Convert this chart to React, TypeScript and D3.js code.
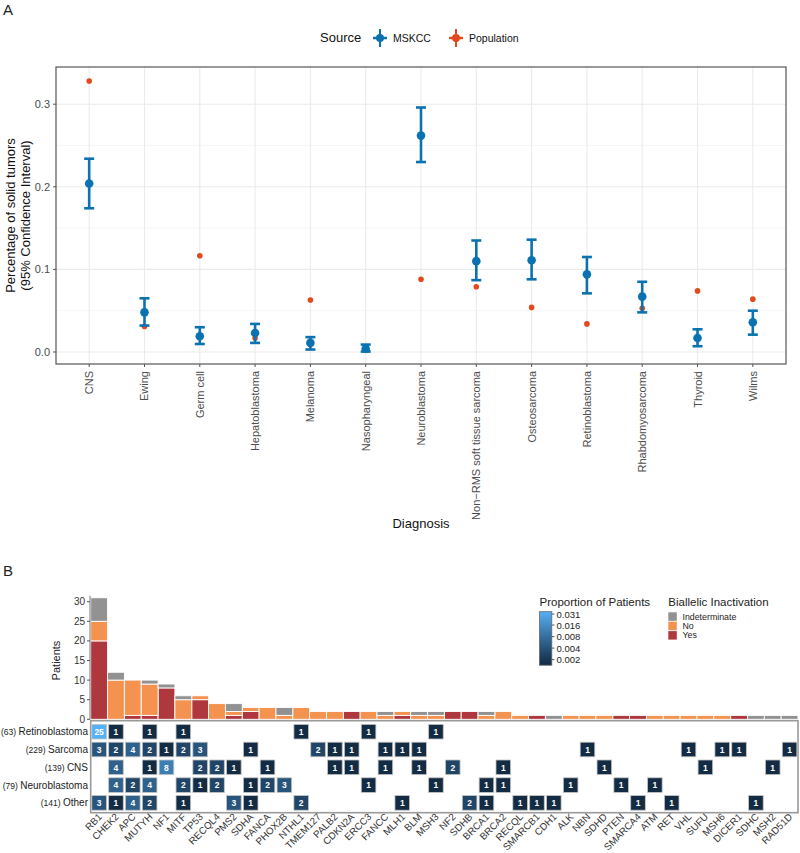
import React from 'react';
import * as d3 from 'd3';

// ---------------- Panel A data ----------------
const diagnoses = ['CNS', 'Ewing', 'Germ cell', 'Hepatoblastoma', 'Melanoma', 'Nasopharyngeal', 'Neuroblastoma', 'Non\u2212RMS soft tissue sarcoma', 'Osteosarcoma', 'Retinoblastoma', 'Rhabdomyosarcoma', 'Thyroid', 'Wilms'];
const mskccEstimate = [0.204, 0.048, 0.019, 0.023, 0.011, 0.004, 0.262, 0.110, 0.111, 0.094, 0.067, 0.017, 0.036];
const mskccLower = [0.174, 0.032, 0.0097, 0.011, 0.003, 0.0005, 0.230, 0.087, 0.088, 0.071, 0.048, 0.007, 0.021];
const mskccUpper = [0.234, 0.065, 0.030, 0.034, 0.018, 0.009, 0.296, 0.135, 0.136, 0.115, 0.085, 0.0275, 0.050];
const populationEstimate = [0.328, 0.031, 0.1166, 0.017, 0.063, 0.006, 0.088, 0.079, 0.054, 0.034, 0.053, 0.074, 0.064];
const yMajorTicks = [0, 0.1, 0.2, 0.3];
const yMinorTicks = [0.05, 0.15, 0.25];

// ---------------- Panel B data ----------------
const genes = ['RB1', 'CHEK2', 'APC', 'MUTYH', 'NF1', 'MITF', 'TP53', 'RECQL4', 'PMS2', 'SDHA', 'FANCA', 'PHOX2B', 'NTHL1', 'TMEM127', 'PALB2', 'CDKN2A', 'ERCC3', 'FANCC', 'MLH1', 'BLM', 'MSH3', 'NF2', 'SDHB', 'BRCA1', 'BRCA2', 'RECQL', 'SMARCB1', 'CDH1', 'ALK', 'NBN', 'SDHD', 'PTEN', 'SMARCA4', 'ATM', 'RET', 'VHL', 'SUFU', 'MSH6', 'DICER1', 'SDHC', 'MSH2', 'RAD51D'];
const biallelicYes = [20, 0, 1, 1, 8, 0, 5, 0, 1, 2, 0, 0, 0, 0, 0, 2, 0, 0, 1, 0, 0, 2, 2, 0, 0, 0, 1, 0, 0, 0, 0, 1, 1, 0, 0, 0, 0, 0, 1, 0, 0, 0];
const biallelicNo = [5, 10, 9, 8, 0, 5, 1, 4, 1, 1, 3, 1, 3, 2, 2, 0, 2, 1, 1, 1, 1, 0, 0, 1, 2, 1, 0, 0, 1, 1, 1, 0, 0, 1, 1, 1, 1, 1, 0, 0, 0, 0];
const biallelicIndeterminate = [6, 2, 0, 1, 1, 1, 0, 0, 2, 0, 0, 2, 0, 0, 0, 0, 0, 1, 0, 1, 1, 0, 0, 1, 0, 0, 0, 1, 0, 0, 0, 0, 0, 0, 0, 0, 0, 0, 0, 1, 1, 1];
const patientTicks = [0, 5, 10, 15, 20, 25, 30];

const tumorGroups = ['Retinoblastoma', 'Sarcoma', 'CNS', 'Neuroblastoma', 'Other'];
const tumorGroupSizes = [63, 229, 139, 79, 141];
const retinoblastomaCounts: Record<string, number> = { RB1: 25, CHEK2: 1, MUTYH: 1, MITF: 1, NTHL1: 1, ERCC3: 1, MSH3: 1 };
const sarcomaCounts: Record<string, number> = { RB1: 3, CHEK2: 2, APC: 4, MUTYH: 2, NF1: 1, MITF: 2, TP53: 3, SDHA: 1, TMEM127: 2, PALB2: 1, CDKN2A: 1, FANCC: 1, MLH1: 1, BLM: 1, NBN: 1, VHL: 1, MSH6: 1, DICER1: 1, RAD51D: 1 };
const cnsCounts: Record<string, number> = { CHEK2: 4, MUTYH: 1, NF1: 8, TP53: 2, RECQL4: 2, PMS2: 1, FANCA: 1, PALB2: 1, CDKN2A: 1, FANCC: 1, BLM: 1, NF2: 2, BRCA2: 1, SDHD: 1, SUFU: 1, MSH2: 1 };
const neuroblastomaCounts: Record<string, number> = { CHEK2: 4, APC: 2, MUTYH: 4, MITF: 2, TP53: 1, RECQL4: 2, SDHA: 1, FANCA: 2, PHOX2B: 3, ERCC3: 1, MSH3: 1, BRCA1: 1, BRCA2: 1, ALK: 1, PTEN: 1, ATM: 1 };
const otherCounts: Record<string, number> = { RB1: 3, CHEK2: 1, APC: 4, MUTYH: 2, MITF: 1, PMS2: 3, SDHA: 1, NTHL1: 2, MLH1: 1, SDHB: 2, BRCA1: 1, RECQL: 1, SMARCB1: 1, CDH1: 1, SMARCA4: 1, RET: 1, SDHC: 1 };
const groupCounts = [retinoblastomaCounts, sarcomaCounts, cnsCounts, neuroblastomaCounts, otherCounts];
const totalPatients = 700;
const proportionLegendLabels = [0.031, 0.016, 0.008, 0.004, 0.002];
const biallelicKeys = ['Yes', 'No', 'Indeterminate'];
const biallelicLegend = ['Indeterminate', 'No', 'Yes'];

const FONT = "'Liberation Sans', Arial, Helvetica, sans-serif";
const BLUE = '#0A72B0';
const RED = '#E2491C';
const biallelicColor: Record<string, string> = { Yes: '#AE383E', No: '#F4924F', Indeterminate: '#929292' };

export default function App() {
  // ---------- Panel A layout ----------
  const P = { left: 56, right: 786, top: 67, bottom: 364 };
  const x = d3.scalePoint<string>().domain(diagnoses).range([P.left, P.right]).padding(0.6);
  const y = d3.scaleLinear().domain([0, 0.3]).range([352, 104.2]);
  const fmt = d3.format('.1f');
  const whisker = 5;

  // ---------- Panel B layout ----------
  const gx = d3.scaleBand<string>().domain(genes).range([90.7, 798]).padding(0);
  const bw = gx.bandwidth();
  const by = d3.scaleLinear().domain([0, 30]).range([719.3, 601.7]);
  const rows = d3.scaleBand<string>().domain(tumorGroups).range([722.8, 811.8]);
  const cell = 14.6;

  const table = genes.map((g, i) => ({ gene: g, Yes: biallelicYes[i], No: biallelicNo[i], Indeterminate: biallelicIndeterminate[i] }));
  const stacked = d3.stack<any>().keys(biallelicKeys)(table);

  const propMin = 1 / totalPatients;
  const propMax = 25 / totalPatients;
  const color = d3.scaleLog<string>().domain([propMin, propMax]).range(['#132B43', '#56B1F7']).interpolate(d3.interpolateLab);
  const legendY = d3.scaleLog().domain([propMin, propMax]).range([665.2, 611.7]);
  const gradStops = d3.range(0, 11).map((k) => k / 10);

  return (
    <svg width={800} height={853} style={{ position: 'absolute', left: 0, top: 0, background: '#fff' }} fontFamily={FONT}>
      <defs>
        <linearGradient id="propGrad" x1="0" y1="1" x2="0" y2="0">
          {gradStops.map((t) => (
            <stop key={t} offset={t} stopColor={color(propMin * Math.pow(propMax / propMin, t))} />
          ))}
        </linearGradient>
      </defs>
      <rect x={0} y={0} width={800} height={853} fill="#fff" />

      {/* ================= PANEL A ================= */}
      <text x={3} y={15} fontSize={15} fill="#222">A</text>

      {/* legend */}
      <text x={320} y={42} fontSize={13} fill="#111">Source</text>
      {[{ c: BLUE, lab: 'MSKCC', cx: 380 }, { c: RED, lab: 'Population', cx: 456 }].map((d) => (
        <g key={d.lab}>
          <line x1={d.cx} x2={d.cx} y1={29} y2={47} stroke={d.c} strokeWidth={2} />
          <line x1={d.cx - 7} x2={d.cx + 7} y1={38} y2={38} stroke={d.c} strokeWidth={2.5} />
          <circle cx={d.cx} cy={38} r={4} fill={d.c} />
          <text x={d.cx + 13} y={42} fontSize={10.5} fill="#111">{d.lab}</text>
        </g>
      ))}

      {/* panel grid */}
      {yMinorTicks.map((t) => (
        <line key={'mi' + t} x1={P.left} x2={P.right} y1={y(t)} y2={y(t)} stroke="#F4F4F4" strokeWidth={0.8} />
      ))}
      {yMajorTicks.map((t) => (
        <line key={'ma' + t} x1={P.left} x2={P.right} y1={y(t)} y2={y(t)} stroke="#EBEBEB" strokeWidth={1.1} />
      ))}
      {diagnoses.map((d) => (
        <line key={'vg' + d} x1={x(d)} x2={x(d)} y1={P.top} y2={P.bottom} stroke="#EBEBEB" strokeWidth={1.1} />
      ))}

      {/* population points */}
      {diagnoses.map((d, i) => (
        <circle key={'pop' + d} cx={x(d)} cy={y(populationEstimate[i])} r={2.8} fill={RED} />
      ))}
      {/* MSKCC error bars */}
      {diagnoses.map((d, i) => {
        const cx = x(d) as number;
        return (
          <g key={'ms' + d}>
            <line x1={cx} x2={cx} y1={y(mskccLower[i])} y2={y(mskccUpper[i])} stroke={BLUE} strokeWidth={2.6} />
            <line x1={cx - whisker} x2={cx + whisker} y1={y(mskccLower[i])} y2={y(mskccLower[i])} stroke={BLUE} strokeWidth={2.6} />
            <line x1={cx - whisker} x2={cx + whisker} y1={y(mskccUpper[i])} y2={y(mskccUpper[i])} stroke={BLUE} strokeWidth={2.6} />
            <circle cx={cx} cy={y(mskccEstimate[i])} r={4.3} fill={BLUE} />
          </g>
        );
      })}
      <rect x={P.left} y={P.top} width={P.right - P.left} height={P.bottom - P.top} fill="none" stroke="#555" strokeWidth={1.2} />

      {/* y axis */}
      {yMajorTicks.map((t) => (
        <g key={'yt' + t}>
          <line x1={P.left - 3} x2={P.left} y1={y(t)} y2={y(t)} stroke="#555" strokeWidth={1} />
          <text x={P.left - 6} y={y(t) + 4} fontSize={11} textAnchor="end" fill="#4D4D4D">{fmt(t)}</text>
        </g>
      ))}
      <text transform={`translate(15,${(P.top + P.bottom) / 2 - 0}) rotate(-90)`} fontSize={13} textAnchor="middle" fill="#111">
        <tspan x={0} y={0}>Percentage of solid tumors</tspan>
        <tspan x={0} y={15}>(95% Confidence Interval)</tspan>
      </text>

      {/* x axis */}
      {diagnoses.map((d) => (
        <g key={'xt' + d}>
          <line x1={x(d)} x2={x(d)} y1={P.bottom} y2={P.bottom + 3} stroke="#555" strokeWidth={1} />
          <text transform={`translate(${(x(d) as number) + 4},${P.bottom + 7}) rotate(-90)`} fontSize={11} textAnchor="end" fill="#4D4D4D">{d}</text>
        </g>
      ))}
      <text x={(P.left + P.right) / 2 + 0} y={528} fontSize={13} textAnchor="middle" fill="#111">Diagnosis</text>

      {/* ================= PANEL B ================= */}
      <text x={3} y={576} fontSize={15} fill="#222">B</text>

      {/* stacked bars */}
      {stacked.map((layer) => (
        <g key={layer.key} fill={biallelicColor[layer.key]}>
          {layer.map((seg, i) => (
            seg[1] - seg[0] > 0 ? (
              <rect key={genes[i]} x={gx(genes[i])} y={by(seg[1])} width={bw} height={by(seg[0]) - by(seg[1])} stroke="#fff" strokeWidth={0.9} />
            ) : null
          ))}
        </g>
      ))}
      {/* bar y axis */}
      <line x1={90} x2={90} y1={by(31.5)} y2={by(0)} stroke="#777" strokeWidth={1} />
      {patientTicks.map((t) => (
        <g key={'pt' + t}>
          <line x1={87} x2={90} y1={by(t)} y2={by(t)} stroke="#555" strokeWidth={1} />
          <text x={85} y={by(t) + 3.5} fontSize={10} textAnchor="end" fill="#333">{t}</text>
        </g>
      ))}
      <text transform={`translate(60,${by(15)}) rotate(-90)`} fontSize={11} textAnchor="middle" fill="#222">Patients</text>

      {/* heatmap */}
      <rect x={90.7} y={720.7} width={707.3} height={92} fill="#fff" stroke="#9A9A9A" strokeWidth={1.6} />
      {groupCounts.map((counts, r) => (
        <g key={tumorGroups[r]}>
          {genes.filter((g) => counts[g] != null).map((g) => {
            const cx = (gx(g) as number) + bw / 2;
            const cy = (rows(tumorGroups[r]) as number) + rows.bandwidth() / 2;
            const v = counts[g];
            return (
              <g key={g}>
                <rect x={cx - cell / 2} y={cy - cell / 2} width={cell} height={cell} fill={color(v / totalPatients)} stroke="#C4C4C4" strokeWidth={0.8} />
                <text x={cx} y={cy + 3.2} fontSize={8.5} fontWeight="bold" textAnchor="middle" fill="#fff">{v}</text>
              </g>
            );
          })}
        </g>
      ))}
      {tumorGroups.map((t, r) => (
        <text key={'rl' + t} x={88} y={(rows(t) as number) + rows.bandwidth() / 2 + 3.5} textAnchor="end" fill="#222">
          <tspan fontSize={8.5}>({tumorGroupSizes[r]}) </tspan>
          <tspan fontSize={10}>{t}</tspan>
        </text>
      ))}
      {genes.map((g) => (
        <text key={'gl' + g} transform={`translate(${(gx(g) as number) + bw / 2 + 3.5},${817.5}) rotate(-45)`} fontSize={9.8} textAnchor="end" fill="#333">{g}</text>
      ))}

      {/* proportion legend */}
      <text x={539.5} y={606} fontSize={11.5} fill="#222">Proportion of Patients</text>
      <rect x={539.5} y={611.7} width={12.3} height={53.5} fill="url(#propGrad)" stroke="#666" strokeWidth={0.8} />
      {proportionLegendLabels.map((v) => (
        <g key={'pl' + v}>
          <line x1={551.8} x2={554.5} y1={legendY(v)} y2={legendY(v)} stroke="#333" strokeWidth={0.8} />
          <text x={556.5} y={legendY(v) + 3.5} fontSize={9.5} fill="#222">{String(v)}</text>
        </g>
      ))}

      {/* biallelic legend */}
      <text x={668.3} y={606} fontSize={11.5} fill="#222">Biallelic Inactivation</text>
      {biallelicLegend.map((k, i) => (
        <g key={'bl' + k}>
          <rect x={668.3} y={612.3 + i * 9.4} width={8.5} height={8.5} fill={biallelicColor[k]} />
          <text x={682.5} y={619.6 + i * 9.4} fontSize={8.8} fill="#222">{k}</text>
        </g>
      ))}
    </svg>
  );
}
